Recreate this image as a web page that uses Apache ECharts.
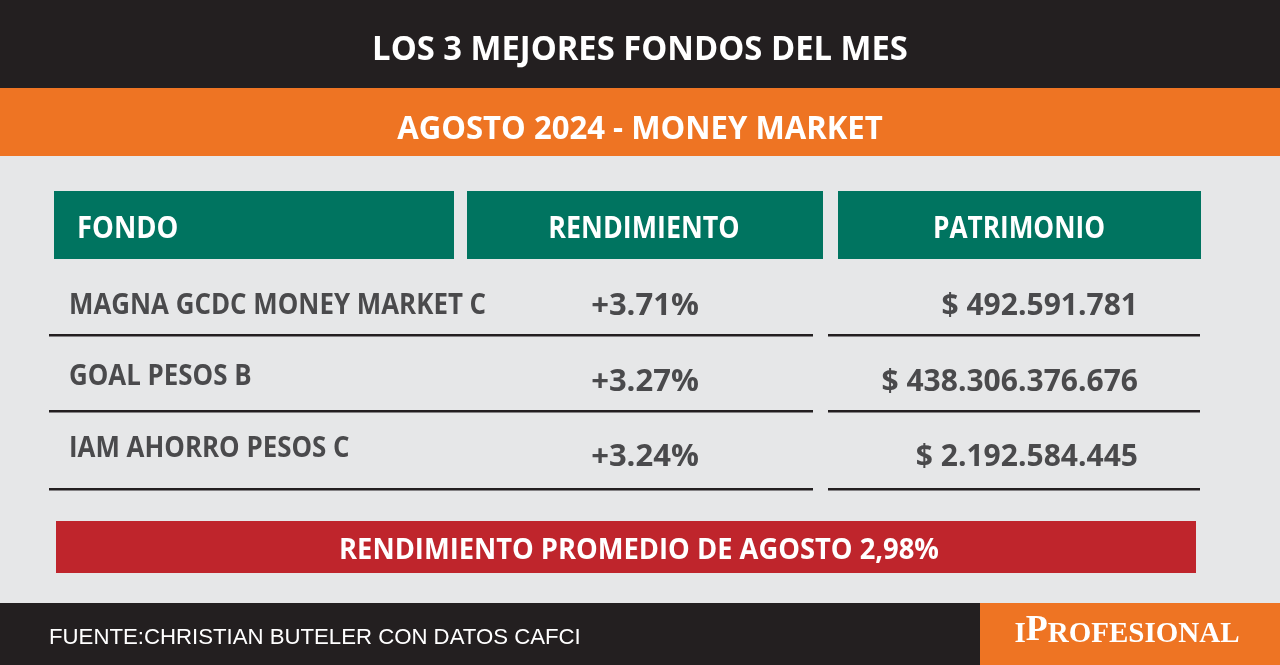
<!DOCTYPE html>
<html>
<head>
<meta charset="utf-8">
<script src="https://cdn.jsdelivr.net/npm/echarts@6/dist/echarts.min.js"></script>
<style>
html, body { margin: 0; padding: 0; background: #e6e7e8; }
#chart { width: 1280px; height: 665px; }
</style>
</head>
<body>
<div id="chart"></div>
<script>
var title = 'LOS 3 MEJORES FONDOS DEL MES';
var subtitle = 'AGOSTO 2024 - MONEY MARKET';
var headers = ['FONDO', 'RENDIMIENTO', 'PATRIMONIO'];
var funds = ['MAGNA GCDC MONEY MARKET C', 'GOAL PESOS B', 'IAM AHORRO PESOS C'];
var returns = ['+3.71%', '+3.27%', '+3.24%'];
var assets = ['$ 492.591.781', '$ 438.306.376.676', '$ 2.192.584.445'];
var average = 'RENDIMIENTO PROMEDIO DE AGOSTO 2,98%';
var source = 'FUENTE:CHRISTIAN BUTELER CON DATOS CAFCI';
var brand = 'IPROFESIONAL';

var colors = {
    black: '#231f20',
    orange: '#ee7423',
    green: '#007460',
    red: '#bf252c',
    bg: '#e6e7e8',
    text: '#4a4a4c',
    line: '#231f20'
};

var chart = echarts.init(document.getElementById('chart'));

var box = function (x, y, w, h, fill) {
    return { type: 'rect', shape: { x: x, y: y, width: w, height: h }, style: { fill: fill }, silent: true };
};

// squeeze: Open Sans is wider than the original face, so it gets narrowed a bit
var label = function (str, x, y, size, fill, align, squeeze) {
    return {
        type: 'text', x: x, y: y, scaleX: squeeze || 1, silent: true,
        style: {
            text: str, fill: fill, fontSize: size,
            fontFamily: 'Open Sans',
            fontWeight: 'bold',
            align: align || 'left', verticalAlign: 'middle'
        }
    };
};

var elements = [
    box(0, 0, 1280, 665, colors.bg),
    box(0, 0, 1280, 88, colors.black),
    box(0, 88, 1280, 68, colors.orange),
    box(54, 191, 400, 68, colors.green),
    box(467, 191, 356, 68, colors.green),
    box(838, 191, 363, 68, colors.green),
    box(56, 521, 1140, 52, colors.red),
    box(0, 603, 980, 62, colors.black),
    box(980, 603, 300, 62, colors.orange),
    label(title, 640, 50, 34, '#ffffff', 'center', 0.964),
    label(subtitle, 640, 130, 33, '#ffffff', 'center', 0.942),
    label(headers[0], 77, 229, 30, '#ffffff', 'left', 0.915),
    label(headers[1], 644, 229, 30, '#ffffff', 'center', 0.895),
    label(headers[2], 1019, 229, 30, '#ffffff', 'center', 0.873),
    label(average, 639, 551, 29, '#ffffff', 'center', 0.942),
    {
        type: 'text', x: 49, y: 638, silent: true,
        style: {
            text: source, fill: '#ffffff', fontSize: 22.2,
            fontFamily: 'Liberation Sans', align: 'left', verticalAlign: 'middle'
        }
    },
    {
        type: 'text', x: 1127, y: 631, silent: true,
        style: {
            text: '{s|' + brand.charAt(0) + '}{b|' + brand.charAt(1) + '}{s|' + brand.slice(2) + '}',
            align: 'center', verticalAlign: 'middle',
            rich: {
                s: { fill: '#ffffff', fontSize: 29, fontFamily: 'Liberation Serif', fontWeight: 'bold', lineHeight: 36, verticalAlign: 'bottom' },
                b: { fill: '#ffffff', fontSize: 36, fontFamily: 'Liberation Serif', fontWeight: 'bold', lineHeight: 36, verticalAlign: 'bottom' }
            }
        }
    }
];

var fundY = [306, 377, 449];
var valueY = [306, 382, 457];
var lineY = [335, 411, 489];

funds.forEach(function (name, i) {
    elements.push(label(name, 69, fundY[i], 29, colors.text, 'left', 0.893));
    elements.push(label(returns[i], 645, valueY[i], 31, colors.text, 'center'));
    elements.push(label(assets[i], 1138, valueY[i], 31, colors.text, 'right', 0.968));
    elements.push(box(49, lineY[i] - 1, 764, 2.5, colors.line));
    elements.push(box(828, lineY[i] - 1, 372, 2.5, colors.line));
});

var option = {
    animation: false,
    graphic: { elements: elements }
};
chart.setOption(option);
</script>
</body>
</html>
